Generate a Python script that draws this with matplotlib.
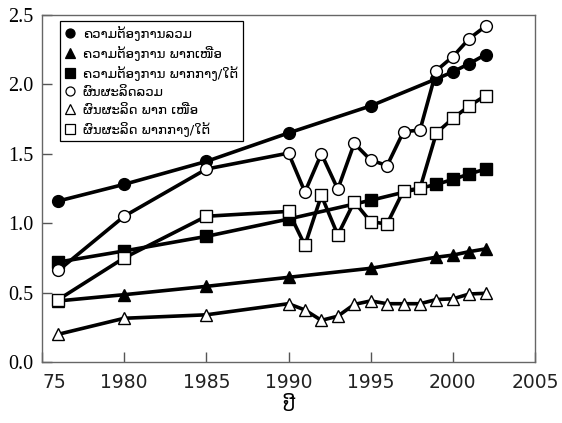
import matplotlib
matplotlib.use("Agg")
import matplotlib.pyplot as plt
from matplotlib.lines import Line2D

# ---- data ----
demand_years = [1976, 1980, 1985, 1990, 1995, 1999, 2000, 2001, 2002]
demand_total = [1.16, 1.28, 1.445, 1.65, 1.845, 2.04, 2.09, 2.15, 2.215]
demand_north = [0.44, 0.485, 0.545, 0.61, 0.675, 0.755, 0.77, 0.795, 0.815]
demand_south = [0.72, 0.80, 0.905, 1.03, 1.165, 1.28, 1.315, 1.355, 1.39]

supply_years = [1976, 1980, 1985, 1990, 1991, 1992, 1993, 1994, 1995, 1996,
                1997, 1998, 1999, 2000, 2001, 2002]
supply_total = [0.66, 1.05, 1.39, 1.505, 1.225, 1.50, 1.245, 1.575, 1.455, 1.415,
                1.66, 1.67, 2.10, 2.20, 2.33, 2.42]
supply_north = [0.20, 0.315, 0.34, 0.42, 0.375, 0.30, 0.33, 0.415, 0.44, 0.42,
                0.42, 0.42, 0.45, 0.455, 0.49, 0.495]
supply_south = [0.45, 0.75, 1.05, 1.085, 0.84, 1.20, 0.915, 1.155, 1.01, 0.995,
                1.235, 1.25, 1.65, 1.755, 1.845, 1.92]

labels = ["ຄວາມຕ້ອງການລວມ", "ຄວາມຕ້ອງການ ພາກເໜືອ", "ຄວາມຕ້ອງການ ພາກກາງ/ໃຕ້",
          "ຜົນຜະລິດລວມ", "ຜົນຜະລິດ ພາກ ເໜືອ", "ຜົນຜະລິດ ພາກກາງ/ໃຕ້"]
x_ticks = [1975, 1980, 1985, 1990, 1995, 2000, 2005]
x_ticklabels = ["75", "1980", "1985", "1990", "1995", "2000", "2005"]
y_ticks = [0.0, 0.5, 1.0, 1.5, 2.0, 2.5]
x_label = "ປີ"

plt.rcParams['font.family'] = ['DejaVu Sans']

fig = plt.figure(figsize=(5.62, 4.23), dpi=100)
ax = fig.add_axes([42/562, 61/423, 493/562, 347/423])

lw = 2.6
ms = 8.5
mew = 1.0
series = [
    (demand_years, demand_total, 'o', 'black'),
    (demand_years, demand_north, '^', 'black'),
    (demand_years, demand_south, 's', 'black'),
    (supply_years, supply_total, 'o', 'white'),
    (supply_years, supply_north, '^', 'white'),
    (supply_years, supply_south, 's', 'white'),
]
for i, (xs, ys, m, fc) in enumerate(series):
    ax.plot(xs, ys, color='black', lw=lw, marker=m, ms=ms if m != 's' else ms - 0.5,
            mfc=fc, mec='black', mew=mew, zorder=2 + i)

ax.set_xlim(1975, 2005)
ax.set_ylim(0, 2.5)
ax.set_xticks(x_ticks)
ax.set_xticklabels(x_ticklabels, fontsize=13.5, family='DejaVu Sans', color='#222222')
ax.set_yticks(y_ticks)
ax.set_yticklabels([f"{v:.1f}" for v in y_ticks], fontsize=14.5,
                   family='Liberation Serif')
ax.get_xticklabels()[0].set_horizontalalignment('left')
ax.tick_params(axis='x', direction='in', length=7, width=1, color='#555555', pad=8)
ax.tick_params(axis='y', direction='in', length=7, width=1, color='#555555', pad=6)
for sp in ax.spines.values():
    sp.set_color('#666666')
    sp.set_linewidth(1.0)
ax.set_xlabel(x_label, fontsize=14, labelpad=3)

handles = []
for (xs, ys, m, fc) in series:
    handles.append(Line2D([], [], ls='none', marker=m, ms=6.5, mfc=fc, mec='black', mew=0.9))
leg = ax.legend(handles, labels, loc='upper left', bbox_to_anchor=(0.036, 0.982),
                fontsize=9.5, frameon=True, fancybox=False, edgecolor='black',
                framealpha=1, handlelength=0.8, handletextpad=0.6, labelspacing=0.38,
                borderpad=0.35, borderaxespad=0)
leg.get_frame().set_linewidth(0.9)
leg.set_zorder(20)

fig.savefig("out.png", dpi=100)
